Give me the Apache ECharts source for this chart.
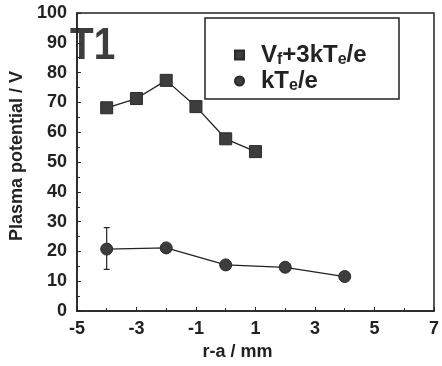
<!DOCTYPE html>
<html>
<head>
<meta charset="utf-8">
<script src="https://cdn.jsdelivr.net/npm/echarts@6/dist/echarts.min.js"></script>
<style>
  html, body { margin: 0; padding: 0; background: #fff; }
  #main { width: 442px; height: 366px; }
</style>
</head>
<body>
<div id="main"></div>
<script>
// 数据 (r-a / mm, 电位 / V)
var vfX = [-4, -3, -2, -1, 0, 1];
var vfY = [68.2, 71.3, 77.4, 68.6, 57.8, 53.5];
var kteX = [-4, -2, 0, 2, 4];
var kteY = [20.8, 21.2, 15.5, 14.7, 11.6];
// 误差棒
var errX = [-4];
var errLow = [14];
var errHigh = [28];

var ink = '#222';
var markFill = '#3d3d3d';
var font = 'Liberation Sans, Arial, sans-serif';

var myChart = echarts.init(document.getElementById('main'));

function pairs(xs, ys) {
    var out = [];
    for (var i = 0; i < xs.length; i++) out.push([xs[i], ys[i]]);
    return out;
}

var errData = [];
for (var i = 0; i < errX.length; i++) errData.push([errX[i], errLow[i], errHigh[i]]);

var legendRich = {
    'Vf+3kTe/e': '{a|V}{s|f}{a|+3kT}{s|e}{a|/e}',
    'kTe/e': '{a|kT}{s|e}{a|/e}'
};

var option = {
    animation: false,
    backgroundColor: '#fff',
    grid: {
        left: 61, right: 7, top: 13, bottom: 52,
        show: true,
        borderColor: ink,
        borderWidth: 1.5
    },
    legend: {
        orient: 'vertical',
        left: 229,
        top: 38,
        itemWidth: 9,
        itemHeight: 9,
        itemGap: 1,
        data: [
            { name: 'Vf+3kTe/e', icon: 'rect' },
            { name: 'kTe/e', icon: 'circle' }
        ],
        formatter: function (name) { return legendRich[name]; },
        textStyle: {
            padding: [0, 0, 0, 12],
            rich: {
                a: { fontFamily: font, fontWeight: 'bold', fontSize: 24, color: ink },
                s: { fontFamily: font, fontWeight: 'bold', fontSize: 16, color: ink, verticalAlign: 'bottom', padding: [10, 0, 0, 0] }
            }
        }
    },
    graphic: [
        {
            type: 'rect',
            shape: { x: 205, y: 18, width: 194, height: 81 },
            style: { fill: 'none', stroke: ink, lineWidth: 1.5 }
        },
        {
            type: 'text',
            left: 70, top: 24,
            scaleX: 0.86,
            style: {
                text: 'T1',
                fontFamily: font,
                fontWeight: 'bold',
                fontSize: 45,
                fill: '#3d3d3d'
            }
        }
    ],
    xAxis: {
        type: 'value',
        min: -5, max: 7, interval: 2,
        name: 'r-a / mm',
        nameLocation: 'middle',
        nameGap: 22,
        nameTextStyle: { fontFamily: font, fontWeight: 'bold', fontSize: 18, color: ink, padding: [0, 36, 0, 0] },
        axisLine: { onZero: false, lineStyle: { color: ink, width: 1.5 } },
        axisTick: { inside: true, length: 4, lineStyle: { color: ink } },
        minorTick: { show: true, splitNumber: 2, length: 3, lineStyle: { color: ink } },
        splitLine: { show: false },
        axisLabel: { fontFamily: font, fontWeight: 'bold', fontSize: 18, color: ink, margin: 9 }
    },
    yAxis: {
        type: 'value',
        min: 0, max: 100, interval: 10,
        name: 'Plasma potential / V',
        nameLocation: 'middle',
        nameGap: 41,
        nameTextStyle: { fontFamily: font, fontWeight: 'bold', fontSize: 18, color: ink, padding: [0, 0, 0, 12] },
        axisLine: { onZero: false, lineStyle: { color: ink, width: 1.5 } },
        axisTick: { inside: true, length: 4, lineStyle: { color: ink } },
        minorTick: { show: true, splitNumber: 2, length: 3, lineStyle: { color: ink } },
        splitLine: { show: false },
        axisLabel: { fontFamily: font, fontWeight: 'bold', fontSize: 18, color: ink, margin: 10 }
    },
    series: [
        {
            name: 'Vf+3kTe/e',
            type: 'line',
            data: pairs(vfX, vfY),
            symbol: 'rect',
            symbolSize: 12,
            lineStyle: { color: ink, width: 1.3 },
            itemStyle: { color: markFill, borderColor: '#2a2a2a', borderWidth: 1 }
        },
        {
            name: 'kTe/e',
            type: 'line',
            data: pairs(kteX, kteY),
            symbol: 'circle',
            symbolSize: 12,
            lineStyle: { color: ink, width: 1.3 },
            itemStyle: { color: markFill, borderColor: '#2a2a2a', borderWidth: 1 }
        },
        {
            name: 'err',
            type: 'custom',
            data: errData,
            z: 1,
            renderItem: function (params, api) {
                var lo = api.coord([api.value(0), api.value(1)]);
                var hi = api.coord([api.value(0), api.value(2)]);
                var w = 3;
                var st = { stroke: ink, lineWidth: 1.2 };
                return {
                    type: 'group',
                    children: [
                        { type: 'line', shape: { x1: lo[0], y1: lo[1], x2: hi[0], y2: hi[1] }, style: st },
                        { type: 'line', shape: { x1: lo[0] - w, y1: lo[1], x2: lo[0] + w, y2: lo[1] }, style: st },
                        { type: 'line', shape: { x1: hi[0] - w, y1: hi[1], x2: hi[0] + w, y2: hi[1] }, style: st }
                    ]
                };
            }
        }
    ]
};

myChart.setOption(option);
</script>
</body>
</html>
